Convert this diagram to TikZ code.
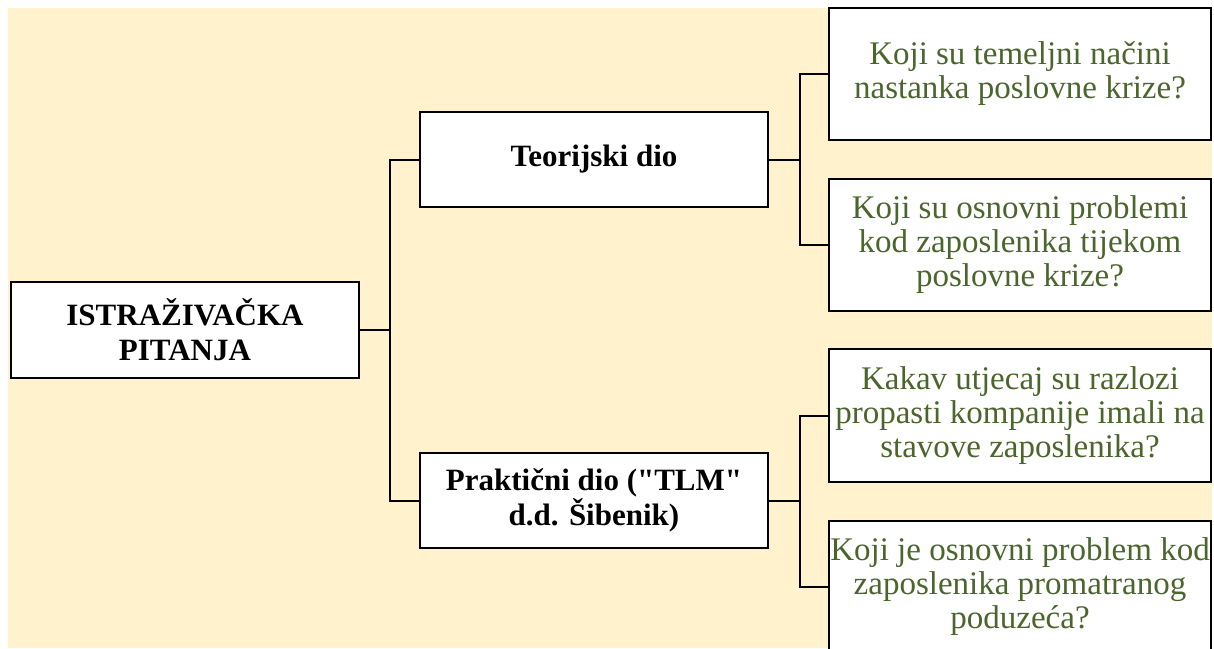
\documentclass[tikz,border=0pt]{standalone}
\usepackage{fontspec}
\setmainfont{Liberation Serif}
\definecolor{bgbeige}{HTML}{FFF2CC}
\definecolor{qgreen}{HTML}{4B662C}
\begin{document}
\begin{tikzpicture}[x=1pt,y=-1pt,
  box/.style={draw=black, line width=2.2pt, fill=white, align=center, inner sep=0pt, rectangle},
  mainbox/.style={box, minimum width=348pt, minimum height=95pt, font=\fontsize{31}{35}\selectfont\bfseries},
  qbox/.style={box, minimum width=382pt, minimum height=132pt, text=qgreen, font=\fontsize{33}{34}\selectfont},
  link/.style={draw=black, line width=2pt}]
\useasboundingbox (0,0) rectangle (1214,648);
\clip (0,0) rectangle (1214,648);
\fill[bgbeige] (8,8) rectangle (1212,648);

\node[mainbox, minimum height=96pt] (root) at (185,330) {ISTRAŽIVAČKA\\PITANJA};
\node[mainbox] (teor) at (594,159.5) {Teorijski dio};
\node[mainbox] (prak) at (594,500.5) {Praktični dio (\textquotedbl TLM\textquotedbl\\d.d. Šibenik)};

\node[qbox] (q1) at (1020,74) {Koji su temeljni načini\\nastanka poslovne krize?};
\node[qbox] (q2) at (1020,245) {Koji su osnovni problemi\\kod zaposlenika tijekom\\poslovne krize?};
\node[qbox, minimum height=133pt] (q3) at (1020,415.5) {Kakav utjecaj su razlozi\\propasti kompanije imali na\\stavove zaposlenika?};
\node[qbox] (q4) at (1020,587) {Koji je osnovni problem kod\\zaposlenika promatranog\\poduzeća?};

\draw[link] (root.east) -- ++(30,0) coordinate (b1) |- (teor.west);
\draw[link] (b1) |- (prak.west);
\draw[link] (teor.east) -- ++(31,0) coordinate (b2) |- (q1.west);
\draw[link] (b2) |- (q2.west);
\draw[link] (prak.east) -- ++(31,0) coordinate (b3) |- (q3.west);
\draw[link] (b3) |- (q4.west);
\end{tikzpicture}
\end{document}
